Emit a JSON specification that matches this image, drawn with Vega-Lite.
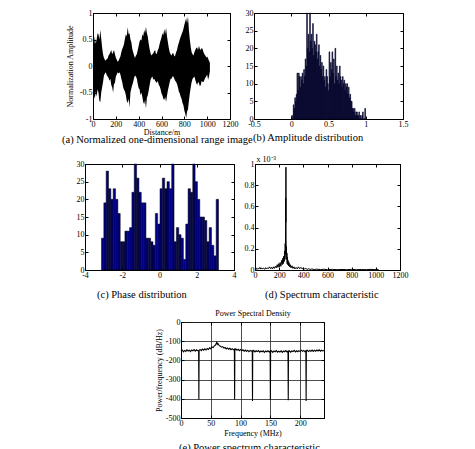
{
"$schema": "https://vega.github.io/schema/vega-lite/v6.json",
"background": "white",
"padding": {"left": 60, "top": 8, "right": 0, "bottom": 0},
"datasets": {
"a": [
{"d":0,"hi":0.48,"lo":-0.45},{"d":8,"hi":0.38,"lo":-0.55},{"d":16,"hi":0.56,"lo":-0.62},{"d":24,"hi":0.42,"lo":-0.48},{"d":32,"hi":0.5,"lo":-0.58},{"d":40,"hi":0.62,"lo":-0.44},{"d":48,"hi":0.6,"lo":-0.5},{"d":56,"hi":0.5,"lo":-0.66},{"d":64,"hi":0.68,"lo":-0.68},{"d":72,"hi":0.52,"lo":-0.5},{"d":80,"hi":0.35,"lo":-0.4},{"d":88,"hi":0.22,"lo":-0.3},{"d":96,"hi":0.15,"lo":-0.18},{"d":104,"hi":0.12,"lo":-0.14},{"d":112,"hi":0.1,"lo":-0.12},{"d":120,"hi":0.13,"lo":-0.17},{"d":128,"hi":0.14,"lo":-0.2},{"d":136,"hi":0.2,"lo":-0.22},{"d":144,"hi":0.22,"lo":-0.28},{"d":152,"hi":0.26,"lo":-0.24},{"d":160,"hi":0.3,"lo":-0.36},{"d":168,"hi":0.22,"lo":-0.4},{"d":176,"hi":0.26,"lo":-0.5},{"d":184,"hi":0.3,"lo":-0.34},{"d":192,"hi":0.22,"lo":-0.32},{"d":200,"hi":0.16,"lo":-0.2},{"d":208,"hi":0.12,"lo":-0.16},{"d":216,"hi":0.08,"lo":-0.12},{"d":224,"hi":0.1,"lo":-0.14},{"d":232,"hi":0.14,"lo":-0.12},{"d":240,"hi":0.18,"lo":-0.16},{"d":248,"hi":0.26,"lo":-0.24},{"d":256,"hi":0.32,"lo":-0.3},{"d":264,"hi":0.36,"lo":-0.4},{"d":272,"hi":0.42,"lo":-0.45},{"d":280,"hi":0.52,"lo":-0.48},{"d":288,"hi":0.6,"lo":-0.55},{"d":296,"hi":0.56,"lo":-0.66},{"d":304,"hi":0.73,"lo":-0.7},{"d":312,"hi":0.6,"lo":-0.62},{"d":320,"hi":0.62,"lo":-0.78},{"d":328,"hi":0.5,"lo":-0.5},{"d":336,"hi":0.45,"lo":-0.42},{"d":344,"hi":0.32,"lo":-0.36},{"d":352,"hi":0.26,"lo":-0.3},{"d":360,"hi":0.2,"lo":-0.22},{"d":368,"hi":0.15,"lo":-0.18},{"d":376,"hi":0.2,"lo":-0.2},{"d":384,"hi":0.22,"lo":-0.24},{"d":392,"hi":0.3,"lo":-0.34},{"d":400,"hi":0.38,"lo":-0.42},{"d":408,"hi":0.46,"lo":-0.44},{"d":416,"hi":0.5,"lo":-0.55},{"d":424,"hi":0.48,"lo":-0.5},{"d":432,"hi":0.6,"lo":-0.58},{"d":440,"hi":0.56,"lo":-0.68},{"d":448,"hi":0.68,"lo":-0.72},{"d":456,"hi":0.62,"lo":-0.64},{"d":464,"hi":0.74,"lo":-0.8},{"d":472,"hi":0.62,"lo":-0.6},{"d":480,"hi":0.55,"lo":-0.55},{"d":488,"hi":0.42,"lo":-0.46},{"d":496,"hi":0.32,"lo":-0.36},{"d":504,"hi":0.24,"lo":-0.26},{"d":512,"hi":0.2,"lo":-0.22},{"d":520,"hi":0.22,"lo":-0.2},{"d":528,"hi":0.24,"lo":-0.26},{"d":536,"hi":0.28,"lo":-0.24},{"d":544,"hi":0.3,"lo":-0.28},{"d":552,"hi":0.22,"lo":-0.3},{"d":560,"hi":0.24,"lo":-0.32},{"d":568,"hi":0.3,"lo":-0.28},{"d":576,"hi":0.34,"lo":-0.36},{"d":584,"hi":0.42,"lo":-0.38},{"d":592,"hi":0.48,"lo":-0.44},{"d":600,"hi":0.54,"lo":-0.52},{"d":608,"hi":0.62,"lo":-0.55},{"d":616,"hi":0.58,"lo":-0.62},{"d":624,"hi":0.7,"lo":-0.64},{"d":632,"hi":0.6,"lo":-0.58},{"d":640,"hi":0.72,"lo":-0.68},{"d":648,"hi":0.56,"lo":-0.56},{"d":656,"hi":0.45,"lo":-0.46},{"d":664,"hi":0.34,"lo":-0.38},{"d":672,"hi":0.26,"lo":-0.3},{"d":680,"hi":0.22,"lo":-0.24},{"d":688,"hi":0.2,"lo":-0.24},{"d":696,"hi":0.24,"lo":-0.2},{"d":704,"hi":0.24,"lo":-0.2},{"d":712,"hi":0.18,"lo":-0.24},{"d":720,"hi":0.2,"lo":-0.28},{"d":728,"hi":0.26,"lo":-0.3},{"d":736,"hi":0.3,"lo":-0.34},{"d":744,"hi":0.38,"lo":-0.4},{"d":752,"hi":0.44,"lo":-0.48},{"d":760,"hi":0.5,"lo":-0.52},{"d":768,"hi":0.55,"lo":-0.58},{"d":776,"hi":0.6,"lo":-0.62},{"d":784,"hi":0.64,"lo":-0.7},{"d":792,"hi":0.7,"lo":-0.74},{"d":800,"hi":0.78,"lo":-0.84},{"d":808,"hi":0.84,"lo":-0.9},{"d":816,"hi":0.9,"lo":-0.98},{"d":824,"hi":0.8,"lo":-0.86},{"d":832,"hi":0.94,"lo":-0.82},{"d":840,"hi":0.68,"lo":-0.66},{"d":848,"hi":0.5,"lo":-0.52},{"d":856,"hi":0.36,"lo":-0.4},{"d":864,"hi":0.26,"lo":-0.3},{"d":872,"hi":0.22,"lo":-0.24},{"d":880,"hi":0.2,"lo":-0.22},{"d":888,"hi":0.26,"lo":-0.2},{"d":896,"hi":0.3,"lo":-0.26},{"d":904,"hi":0.34,"lo":-0.32},{"d":912,"hi":0.35,"lo":-0.36},{"d":920,"hi":0.3,"lo":-0.3},{"d":928,"hi":0.38,"lo":-0.32},{"d":936,"hi":0.32,"lo":-0.38},{"d":944,"hi":0.3,"lo":-0.36},{"d":952,"hi":0.34,"lo":-0.28},{"d":960,"hi":0.32,"lo":-0.3},{"d":968,"hi":0.26,"lo":-0.3},{"d":976,"hi":0.22,"lo":-0.26},{"d":984,"hi":0.2,"lo":-0.22},{"d":992,"hi":0.16,"lo":-0.2},{"d":1000,"hi":0.18,"lo":-0.16},{"d":1008,"hi":0.14,"lo":-0.26},{"d":1016,"hi":0.1,"lo":-0.2},{"d":1024,"hi":0.06,"lo":-0.1}
],
"b": [
{"a0":0.00,"a1":0.01,"n":1},{"a0":0.01,"a1":0.02,"n":0},{"a0":0.02,"a1":0.03,"n":4},{"a0":0.03,"a1":0.04,"n":3},{"a0":0.04,"a1":0.05,"n":6},{"a0":0.05,"a1":0.06,"n":5},{"a0":0.06,"a1":0.07,"n":7},{"a0":0.07,"a1":0.08,"n":13},{"a0":0.08,"a1":0.09,"n":8},{"a0":0.09,"a1":0.10,"n":13},
{"a0":0.10,"a1":0.11,"n":12},{"a0":0.11,"a1":0.12,"n":9},{"a0":0.12,"a1":0.13,"n":12},{"a0":0.13,"a1":0.14,"n":11},{"a0":0.14,"a1":0.15,"n":13},{"a0":0.15,"a1":0.16,"n":10},{"a0":0.16,"a1":0.17,"n":14},{"a0":0.17,"a1":0.18,"n":12},{"a0":0.18,"a1":0.19,"n":17},{"a0":0.19,"a1":0.20,"n":15},
{"a0":0.20,"a1":0.21,"n":30},{"a0":0.21,"a1":0.22,"n":20},{"a0":0.22,"a1":0.23,"n":24},{"a0":0.23,"a1":0.24,"n":19},{"a0":0.24,"a1":0.25,"n":30},{"a0":0.25,"a1":0.26,"n":22},{"a0":0.26,"a1":0.27,"n":24},{"a0":0.27,"a1":0.28,"n":20},{"a0":0.28,"a1":0.29,"n":27},{"a0":0.29,"a1":0.30,"n":18},
{"a0":0.30,"a1":0.31,"n":22},{"a0":0.31,"a1":0.32,"n":21},{"a0":0.32,"a1":0.33,"n":19},{"a0":0.33,"a1":0.34,"n":24},{"a0":0.34,"a1":0.35,"n":17},{"a0":0.35,"a1":0.36,"n":19},{"a0":0.36,"a1":0.37,"n":21},{"a0":0.37,"a1":0.38,"n":15},{"a0":0.38,"a1":0.39,"n":18},{"a0":0.39,"a1":0.40,"n":14},
{"a0":0.40,"a1":0.41,"n":16},{"a0":0.41,"a1":0.42,"n":12},{"a0":0.42,"a1":0.43,"n":15},{"a0":0.43,"a1":0.44,"n":11},{"a0":0.44,"a1":0.45,"n":12},{"a0":0.45,"a1":0.46,"n":9},{"a0":0.46,"a1":0.47,"n":14},{"a0":0.47,"a1":0.48,"n":12},{"a0":0.48,"a1":0.49,"n":10},{"a0":0.49,"a1":0.50,"n":8},
{"a0":0.50,"a1":0.51,"n":19},{"a0":0.51,"a1":0.52,"n":12},{"a0":0.52,"a1":0.53,"n":16},{"a0":0.53,"a1":0.54,"n":14},{"a0":0.54,"a1":0.55,"n":19},{"a0":0.55,"a1":0.56,"n":13},{"a0":0.56,"a1":0.57,"n":17},{"a0":0.57,"a1":0.58,"n":10},{"a0":0.58,"a1":0.59,"n":20},{"a0":0.59,"a1":0.60,"n":12},
{"a0":0.60,"a1":0.61,"n":15},{"a0":0.61,"a1":0.62,"n":11},{"a0":0.62,"a1":0.63,"n":13},{"a0":0.63,"a1":0.64,"n":10},{"a0":0.64,"a1":0.65,"n":15},{"a0":0.65,"a1":0.66,"n":12},{"a0":0.66,"a1":0.67,"n":11},{"a0":0.67,"a1":0.68,"n":9},{"a0":0.68,"a1":0.69,"n":12},{"a0":0.69,"a1":0.70,"n":10},
{"a0":0.70,"a1":0.71,"n":11},{"a0":0.71,"a1":0.72,"n":8},{"a0":0.72,"a1":0.73,"n":10},{"a0":0.73,"a1":0.74,"n":9},{"a0":0.74,"a1":0.75,"n":10},{"a0":0.75,"a1":0.76,"n":7},{"a0":0.76,"a1":0.77,"n":9},{"a0":0.77,"a1":0.78,"n":6},{"a0":0.78,"a1":0.79,"n":7},{"a0":0.79,"a1":0.80,"n":5},
{"a0":0.80,"a1":0.81,"n":5},{"a0":0.81,"a1":0.82,"n":3},{"a0":0.82,"a1":0.83,"n":3},{"a0":0.83,"a1":0.84,"n":2},{"a0":0.84,"a1":0.85,"n":3},{"a0":0.85,"a1":0.86,"n":1},{"a0":0.86,"a1":0.87,"n":2},{"a0":0.87,"a1":0.88,"n":2},{"a0":0.88,"a1":0.89,"n":1},{"a0":0.89,"a1":0.90,"n":1},
{"a0":0.90,"a1":0.91,"n":2},{"a0":0.91,"a1":0.92,"n":0},{"a0":0.92,"a1":0.93,"n":1},{"a0":0.93,"a1":0.94,"n":0},{"a0":0.94,"a1":0.95,"n":1},{"a0":0.95,"a1":0.96,"n":2},{"a0":0.96,"a1":0.97,"n":0},{"a0":0.97,"a1":0.98,"n":0},{"a0":0.98,"a1":0.99,"n":3},{"a0":0.99,"a1":1.00,"n":0}
],
"c": [
{"a0":-3.1416,"a1":-3.0159,"n":9},{"a0":-3.0159,"a1":-2.8903,"n":19},{"a0":-2.8903,"a1":-2.7646,"n":28},{"a0":-2.7646,"a1":-2.6389,"n":23},{"a0":-2.6389,"a1":-2.5133,"n":20},{"a0":-2.5133,"a1":-2.3876,"n":23},{"a0":-2.3876,"a1":-2.2619,"n":20},{"a0":-2.2619,"a1":-2.1363,"n":16},{"a0":-2.1363,"a1":-2.0106,"n":8},{"a0":-2.0106,"a1":-1.885,"n":8},
{"a0":-1.885,"a1":-1.7593,"n":11},{"a0":-1.7593,"a1":-1.6336,"n":11},{"a0":-1.6336,"a1":-1.508,"n":12},{"a0":-1.508,"a1":-1.3823,"n":22},{"a0":-1.3823,"a1":-1.2566,"n":30},{"a0":-1.2566,"a1":-1.131,"n":26},{"a0":-1.131,"a1":-1.0053,"n":22},{"a0":-1.0053,"a1":-0.8796,"n":19},{"a0":-0.8796,"a1":-0.754,"n":19},{"a0":-0.754,"a1":-0.6283,"n":9},
{"a0":-0.6283,"a1":-0.5027,"n":9},{"a0":-0.5027,"a1":-0.377,"n":8},{"a0":-0.377,"a1":-0.2513,"n":7},{"a0":-0.2513,"a1":-0.1257,"n":16},{"a0":-0.1257,"a1":0,"n":13},{"a0":0,"a1":0.1257,"n":23},{"a0":0.1257,"a1":0.2513,"n":26},{"a0":0.2513,"a1":0.377,"n":23},{"a0":0.377,"a1":0.5027,"n":25},{"a0":0.5027,"a1":0.6283,"n":23},
{"a0":0.6283,"a1":0.754,"n":30},{"a0":0.754,"a1":0.8796,"n":8},{"a0":0.8796,"a1":1.0053,"n":12},{"a0":1.0053,"a1":1.131,"n":10},{"a0":1.131,"a1":1.2566,"n":9},{"a0":1.2566,"a1":1.3823,"n":3},{"a0":1.3823,"a1":1.508,"n":13},{"a0":1.508,"a1":1.6336,"n":23},{"a0":1.6336,"a1":1.7593,"n":22},{"a0":1.7593,"a1":1.885,"n":30},
{"a0":1.885,"a1":2.0106,"n":25},{"a0":2.0106,"a1":2.1363,"n":20},{"a0":2.1363,"a1":2.2619,"n":15},{"a0":2.2619,"a1":2.3876,"n":15},{"a0":2.3876,"a1":2.5133,"n":14},{"a0":2.5133,"a1":2.6389,"n":8},{"a0":2.6389,"a1":2.7646,"n":12},{"a0":2.7646,"a1":2.8903,"n":7},{"a0":2.8903,"a1":3.0159,"n":4},{"a0":3.0159,"a1":3.1416,"n":20}
],
"d": [
{"x":0,"v":0.01},{"x":8,"v":0.02},{"x":16,"v":0.005},{"x":24,"v":0.015},{"x":32,"v":0.01},{"x":40,"v":0.025},{"x":48,"v":0.008},{"x":56,"v":0.02},{"x":64,"v":0.012},{"x":72,"v":0.018},{"x":80,"v":0.006},{"x":88,"v":0.022},{"x":96,"v":0.01},{"x":104,"v":0.02},{"x":112,"v":0.015},{"x":120,"v":0.03},{"x":128,"v":0.012},{"x":136,"v":0.025},{"x":144,"v":0.01},{"x":152,"v":0.03},{"x":160,"v":0.015},{"x":168,"v":0.035},{"x":176,"v":0.02},{"x":184,"v":0.05},{"x":190,"v":0.025},{"x":196,"v":0.06},{"x":202,"v":0.03},{"x":208,"v":0.07},{"x":214,"v":0.035},{"x":220,"v":0.09},{"x":226,"v":0.05},{"x":230,"v":0.11},{"x":234,"v":0.06},{"x":238,"v":0.13},{"x":242,"v":0.08},{"x":245,"v":0.18},{"x":248,"v":0.1},{"x":250,"v":0.25},{"x":252,"v":0.15},{"x":254,"v":0.68},{"x":255,"v":0.45},{"x":256,"v":0.97},{"x":257,"v":0.3},{"x":258,"v":0.25},{"x":259,"v":0.12},{"x":260,"v":0.22},{"x":262,"v":0.1},{"x":264,"v":0.16},{"x":266,"v":0.06},{"x":268,"v":0.12},{"x":271,"v":0.05},{"x":274,"v":0.09},{"x":278,"v":0.04},{"x":282,"v":0.07},{"x":286,"v":0.03},{"x":292,"v":0.05},{"x":298,"v":0.02},{"x":306,"v":0.04},{"x":314,"v":0.015},{"x":322,"v":0.03},{"x":330,"v":0.01},{"x":340,"v":0.025},{"x":350,"v":0.01},{"x":360,"v":0.03},{"x":370,"v":0.012},{"x":380,"v":0.025},{"x":390,"v":0.01},{"x":400,"v":0.02},{"x":410,"v":0.008},{"x":420,"v":0.015},{"x":432,"v":0.006},{"x":444,"v":0.012},{"x":456,"v":0.005},{"x":470,"v":0.01},{"x":490,"v":0.004},{"x":510,"v":0.008},{"x":540,"v":0.004},{"x":570,"v":0.007},{"x":600,"v":0.003},{"x":640,"v":0.006},{"x":680,"v":0.003},{"x":720,"v":0.005},{"x":760,"v":0.003},{"x":800,"v":0.006},{"x":840,"v":0.003},{"x":880,"v":0.005},{"x":920,"v":0.003},{"x":960,"v":0.006},{"x":990,"v":0.004},{"x":1010,"v":0.007},{"x":1024,"v":0.002}
],
"e": [
{"f":0,"p":-152},{"f":2,"p":-146},{"f":4,"p":-155},{"f":6,"p":-148},{"f":8,"p":-153},{"f":10,"p":-145},{"f":12,"p":-151},{"f":14,"p":-147},{"f":16,"p":-154},{"f":18,"p":-146},{"f":20,"p":-150},{"f":22,"p":-144},{"f":24,"p":-152},{"f":26,"p":-145},{"f":28,"p":-149},{"f":29.6,"p":-150},{"f":30,"p":-403},{"f":30.4,"p":-148},{"f":32,"p":-143},{"f":34,"p":-149},{"f":36,"p":-141},{"f":38,"p":-147},{"f":40,"p":-140},{"f":42,"p":-146},{"f":44,"p":-138},{"f":46,"p":-143},{"f":48,"p":-134},{"f":50,"p":-139},{"f":52,"p":-130},{"f":54,"p":-133},{"f":56,"p":-124},{"f":58,"p":-120},{"f":60,"p":-106},{"f":61,"p":-116},{"f":62,"p":-112},{"f":64,"p":-122},{"f":66,"p":-126},{"f":68,"p":-131},{"f":70,"p":-128},{"f":72,"p":-136},{"f":74,"p":-133},{"f":76,"p":-140},{"f":78,"p":-135},{"f":80,"p":-142},{"f":82,"p":-137},{"f":84,"p":-144},{"f":86,"p":-139},{"f":88,"p":-145},{"f":89.6,"p":-141},{"f":90,"p":-403},{"f":90.4,"p":-146},{"f":92,"p":-140},{"f":94,"p":-147},{"f":96,"p":-142},{"f":98,"p":-149},{"f":100,"p":-143},{"f":102,"p":-150},{"f":104,"p":-145},{"f":106,"p":-152},{"f":108,"p":-146},{"f":110,"p":-153},{"f":112,"p":-147},{"f":114,"p":-155},{"f":116,"p":-148},{"f":118,"p":-152},{"f":119.6,"p":-149},{"f":120,"p":-412},{"f":120.4,"p":-155},{"f":122,"p":-148},{"f":124,"p":-156},{"f":126,"p":-150},{"f":128,"p":-154},{"f":130,"p":-149},{"f":132,"p":-157},{"f":134,"p":-151},{"f":136,"p":-155},{"f":138,"p":-150},{"f":140,"p":-158},{"f":142,"p":-151},{"f":144,"p":-155},{"f":146,"p":-150},{"f":148,"p":-156},{"f":149.6,"p":-151},{"f":150,"p":-405},{"f":150.4,"p":-154},{"f":152,"p":-150},{"f":154,"p":-158},{"f":156,"p":-151},{"f":158,"p":-155},{"f":160,"p":-149},{"f":162,"p":-157},{"f":164,"p":-152},{"f":166,"p":-156},{"f":168,"p":-150},{"f":170,"p":-158},{"f":172,"p":-151},{"f":174,"p":-155},{"f":176,"p":-149},{"f":178,"p":-156},{"f":179.6,"p":-152},{"f":180,"p":-408},{"f":180.4,"p":-155},{"f":182,"p":-150},{"f":184,"p":-157},{"f":186,"p":-151},{"f":188,"p":-154},{"f":190,"p":-148},{"f":192,"p":-156},{"f":194,"p":-150},{"f":196,"p":-155},{"f":198,"p":-149},{"f":200,"p":-154},{"f":202,"p":-147},{"f":204,"p":-153},{"f":206,"p":-148},{"f":208,"p":-155},{"f":209.6,"p":-150},{"f":210,"p":-411},{"f":210.4,"p":-153},{"f":212,"p":-147},{"f":214,"p":-154},{"f":216,"p":-148},{"f":218,"p":-152},{"f":220,"p":-146},{"f":222,"p":-153},{"f":224,"p":-147},{"f":226,"p":-152},{"f":228,"p":-146},{"f":230,"p":-151},{"f":232,"p":-145},{"f":234,"p":-152},{"f":236,"p":-147},{"f":238,"p":-151},{"f":240,"p":-148}
]
},
"spacing": 8,
"vconcat": [
{"bounds": "flush", "spacing": 24, "hconcat": [
 {"width": 9, "height": 1, "view": {"stroke": null, "fill": "white"}, "data": {"values": []}, "mark": {"type": "point", "opacity": 0}},
 {"width": 137, "height": 106, "data": {"name": "a"},
  "title": {"text": "(a) Normalized one-dimensional range image", "orient": "bottom", "anchor": "start", "frame": "group", "dx": -31, "offset": -1},
  "layer": [
   {"mark": {"type": "area", "color": "black"},
    "encoding": {
     "x": {"field": "d", "type": "quantitative", "scale": {"domain": [0, 1200], "nice": false, "zero": false}, "axis": {"values": [0,200,400,600,800,1000,1200], "title": "Distance/m", "titlePadding": 0, "labelExpr": "replace(format(datum.value, '~g'), '−', '-')"}},
     "y": {"field": "hi", "type": "quantitative", "scale": {"domain": [-1, 1], "nice": false, "zero": false}, "axis": {"values": [-1,-0.5,0,0.5,1], "title": "Normalization Amplitude", "titlePadding": 5, "labelExpr": "replace(format(datum.value, '~g'), '−', '-')"}},
     "y2": {"field": "lo"}}},
   {"mark": {"type": "point", "opacity": 0},
    "encoding": {
     "x": {"field": "d", "type": "quantitative", "axis": {"orient": "top", "values": [0,200,400,600,800,1000,1200], "labels": false, "domain": false, "title": null}},
     "y": {"field": "hi", "type": "quantitative", "axis": {"orient": "right", "values": [-1,-0.5,0,0.5,1], "labels": false, "domain": false, "title": null}}}}
  ],
  "resolve": {"axis": {"x": "independent", "y": "independent"}}},
 {"width": 149, "height": 106, "data": {"name": "b"},
  "title": {"text": "(b) Amplitude distribution", "orient": "bottom", "anchor": "start", "frame": "group", "dx": -1, "offset": 5},
  "layer": [
   {"mark": {"type": "bar", "color": "#06062e", "stroke": "#06062e", "strokeWidth": 0.6, "binSpacing": 0},
    "encoding": {
     "x": {"field": "a0", "type": "quantitative", "bin": "binned", "scale": {"domain": [-0.5, 1.5], "nice": false, "zero": false}, "axis": {"values": [-0.5,0,0.5,1,1.5], "title": null, "labelExpr": "replace(format(datum.value, '~g'), '−', '-')"}},
     "x2": {"field": "a1"},
     "y": {"field": "n", "type": "quantitative", "scale": {"domain": [0, 30], "nice": false}, "axis": {"values": [0,5,10,15,20,25,30], "title": null, "labelExpr": "replace(format(datum.value, '~g'), '−', '-')"}}}},
   {"mark": {"type": "point", "opacity": 0},
    "encoding": {
     "x": {"field": "a0", "type": "quantitative", "axis": {"orient": "top", "values": [-0.5,0,0.5,1,1.5], "labels": false, "domain": false, "title": null}},
     "y": {"field": "n", "type": "quantitative", "axis": {"orient": "right", "values": [0,5,10,15,20,25,30], "labels": false, "domain": false, "title": null}}}}
  ],
  "resolve": {"axis": {"x": "independent", "y": "independent"}}}
]},
{"bounds": "flush", "spacing": 21, "hconcat": [
 {"width": 4, "height": 1, "view": {"stroke": null, "fill": "white"}, "data": {"values": []}, "mark": {"type": "point", "opacity": 0}},
 {"width": 149, "height": 106, "data": {"name": "c"},
  "title": {"text": "(c) Phase distribution", "orient": "bottom", "anchor": "start", "frame": "group", "dx": 12, "offset": 11},
  "layer": [
   {"mark": {"type": "bar", "color": "#000080", "stroke": "black", "strokeWidth": 0.5, "binSpacing": 0},
    "encoding": {
     "x": {"field": "a0", "type": "quantitative", "bin": "binned", "scale": {"domain": [-4, 4], "nice": false, "zero": false}, "axis": {"values": [-4,-2,0,2,4], "title": null, "labelExpr": "replace(format(datum.value, '~g'), '−', '-')"}},
     "x2": {"field": "a1"},
     "y": {"field": "n", "type": "quantitative", "scale": {"domain": [0, 30], "nice": false}, "axis": {"values": [0,5,10,15,20,25,30], "title": null, "labelExpr": "replace(format(datum.value, '~g'), '−', '-')"}}}},
   {"mark": {"type": "point", "opacity": 0},
    "encoding": {
     "x": {"field": "a0", "type": "quantitative", "axis": {"orient": "top", "values": [-4,-2,0,2,4], "labels": false, "domain": false, "title": null}},
     "y": {"field": "n", "type": "quantitative", "axis": {"orient": "right", "values": [0,5,10,15,20,25,30], "labels": false, "domain": false, "title": null}}}}
  ],
  "resolve": {"axis": {"x": "independent", "y": "independent"}}},
 {"width": 145, "height": 106, "data": {"name": "d"},
  "title": {"text": "(d) Spectrum characteristic", "orient": "bottom", "anchor": "start", "frame": "group", "dx": 10, "offset": 11},
  "layer": [
   {"mark": {"type": "line", "color": "black", "strokeWidth": 1},
    "encoding": {
     "x": {"field": "x", "type": "quantitative", "scale": {"domain": [0, 1200], "nice": false, "zero": false}, "axis": {"values": [0,200,400,600,800,1000,1200], "title": null, "labelExpr": "replace(format(datum.value, '~g'), '−', '-')"}},
     "y": {"field": "v", "type": "quantitative", "scale": {"domain": [0, 1], "nice": false}, "axis": {"values": [0,0.2,0.4,0.6,0.8,1], "title": "x 10⁻³", "titleAngle": 0, "titleAlign": "left", "titleBaseline": "bottom", "titleX": 1, "titleY": -1, "labelExpr": "replace(format(datum.value, '~g'), '−', '-')"}}}},
   {"mark": {"type": "point", "opacity": 0},
    "encoding": {
     "x": {"field": "x", "type": "quantitative", "axis": {"orient": "top", "values": [0,200,400,600,800,1000,1200], "labels": false, "domain": false, "title": null}},
     "y": {"field": "v", "type": "quantitative", "axis": {"orient": "right", "values": [0,0.2,0.4,0.6,0.8,1], "labels": false, "domain": false, "title": null}}}}
  ],
  "resolve": {"axis": {"x": "independent", "y": "independent"}}}
]},
{"bounds": "flush", "spacing": 0, "hconcat": [
 {"width": 121, "height": 1, "view": {"stroke": null, "fill": "white"}, "data": {"values": []}, "mark": {"type": "point", "opacity": 0}},
 {"width": 143, "height": 96, "data": {"name": "e"},
  "title": {"text": "(e) Power spectrum characteristic", "orient": "bottom", "anchor": "start", "frame": "group", "dx": -2, "offset": 6},
  "layer": [
   {"mark": {"type": "line", "color": "black", "strokeWidth": 1.1},
    "encoding": {
     "x": {"field": "f", "type": "quantitative", "scale": {"domain": [0, 240], "nice": false, "zero": false}, "axis": {"values": [0,50,100,150,200], "title": "Frequency (MHz)", "grid": true, "gridColor": "#222222", "gridWidth": 0.8, "labelExpr": "replace(format(datum.value, '~g'), '−', '-')"}},
     "y": {"field": "p", "type": "quantitative", "scale": {"domain": [-500, 0], "nice": false, "zero": false}, "axis": {"values": [-500,-400,-300,-200,-100,0], "title": "Power/frequency (dB/Hz)", "grid": true, "gridColor": "#222222", "gridWidth": 0.8, "labelExpr": "replace(format(datum.value, '~g'), '−', '-')"}}}},
   {"mark": {"type": "point", "opacity": 0},
    "encoding": {
     "x": {"field": "f", "type": "quantitative", "axis": {"orient": "top", "values": [0,50,100,150,200], "labels": false, "domain": false, "title": "Power Spectral Density", "titlePadding": 4}},
     "y": {"field": "p", "type": "quantitative", "axis": {"orient": "right", "values": [-500,-400,-300,-200,-100,0], "labels": false, "domain": false, "title": null}}}}
  ],
  "resolve": {"axis": {"x": "independent", "y": "independent"}}}
]}
],
"config": {
 "view": {"stroke": "black", "strokeWidth": 1},
 "font": "Liberation Serif",
 "axis": {"labelFont": "Liberation Serif", "labelFontSize": 8, "labelColor": "black", "titleFont": "Liberation Serif", "titleFontSize": 8, "titleFontWeight": "normal", "titleColor": "black", "domainColor": "black", "tickColor": "black", "tickSize": -3, "labelPadding": 4, "grid": false, "labelOverlap": false, "labelFlush": false, "titlePadding": 2},
 "title": {"font": "Liberation Serif", "fontSize": 10.5, "fontWeight": "normal", "color": "black"}
}
}
